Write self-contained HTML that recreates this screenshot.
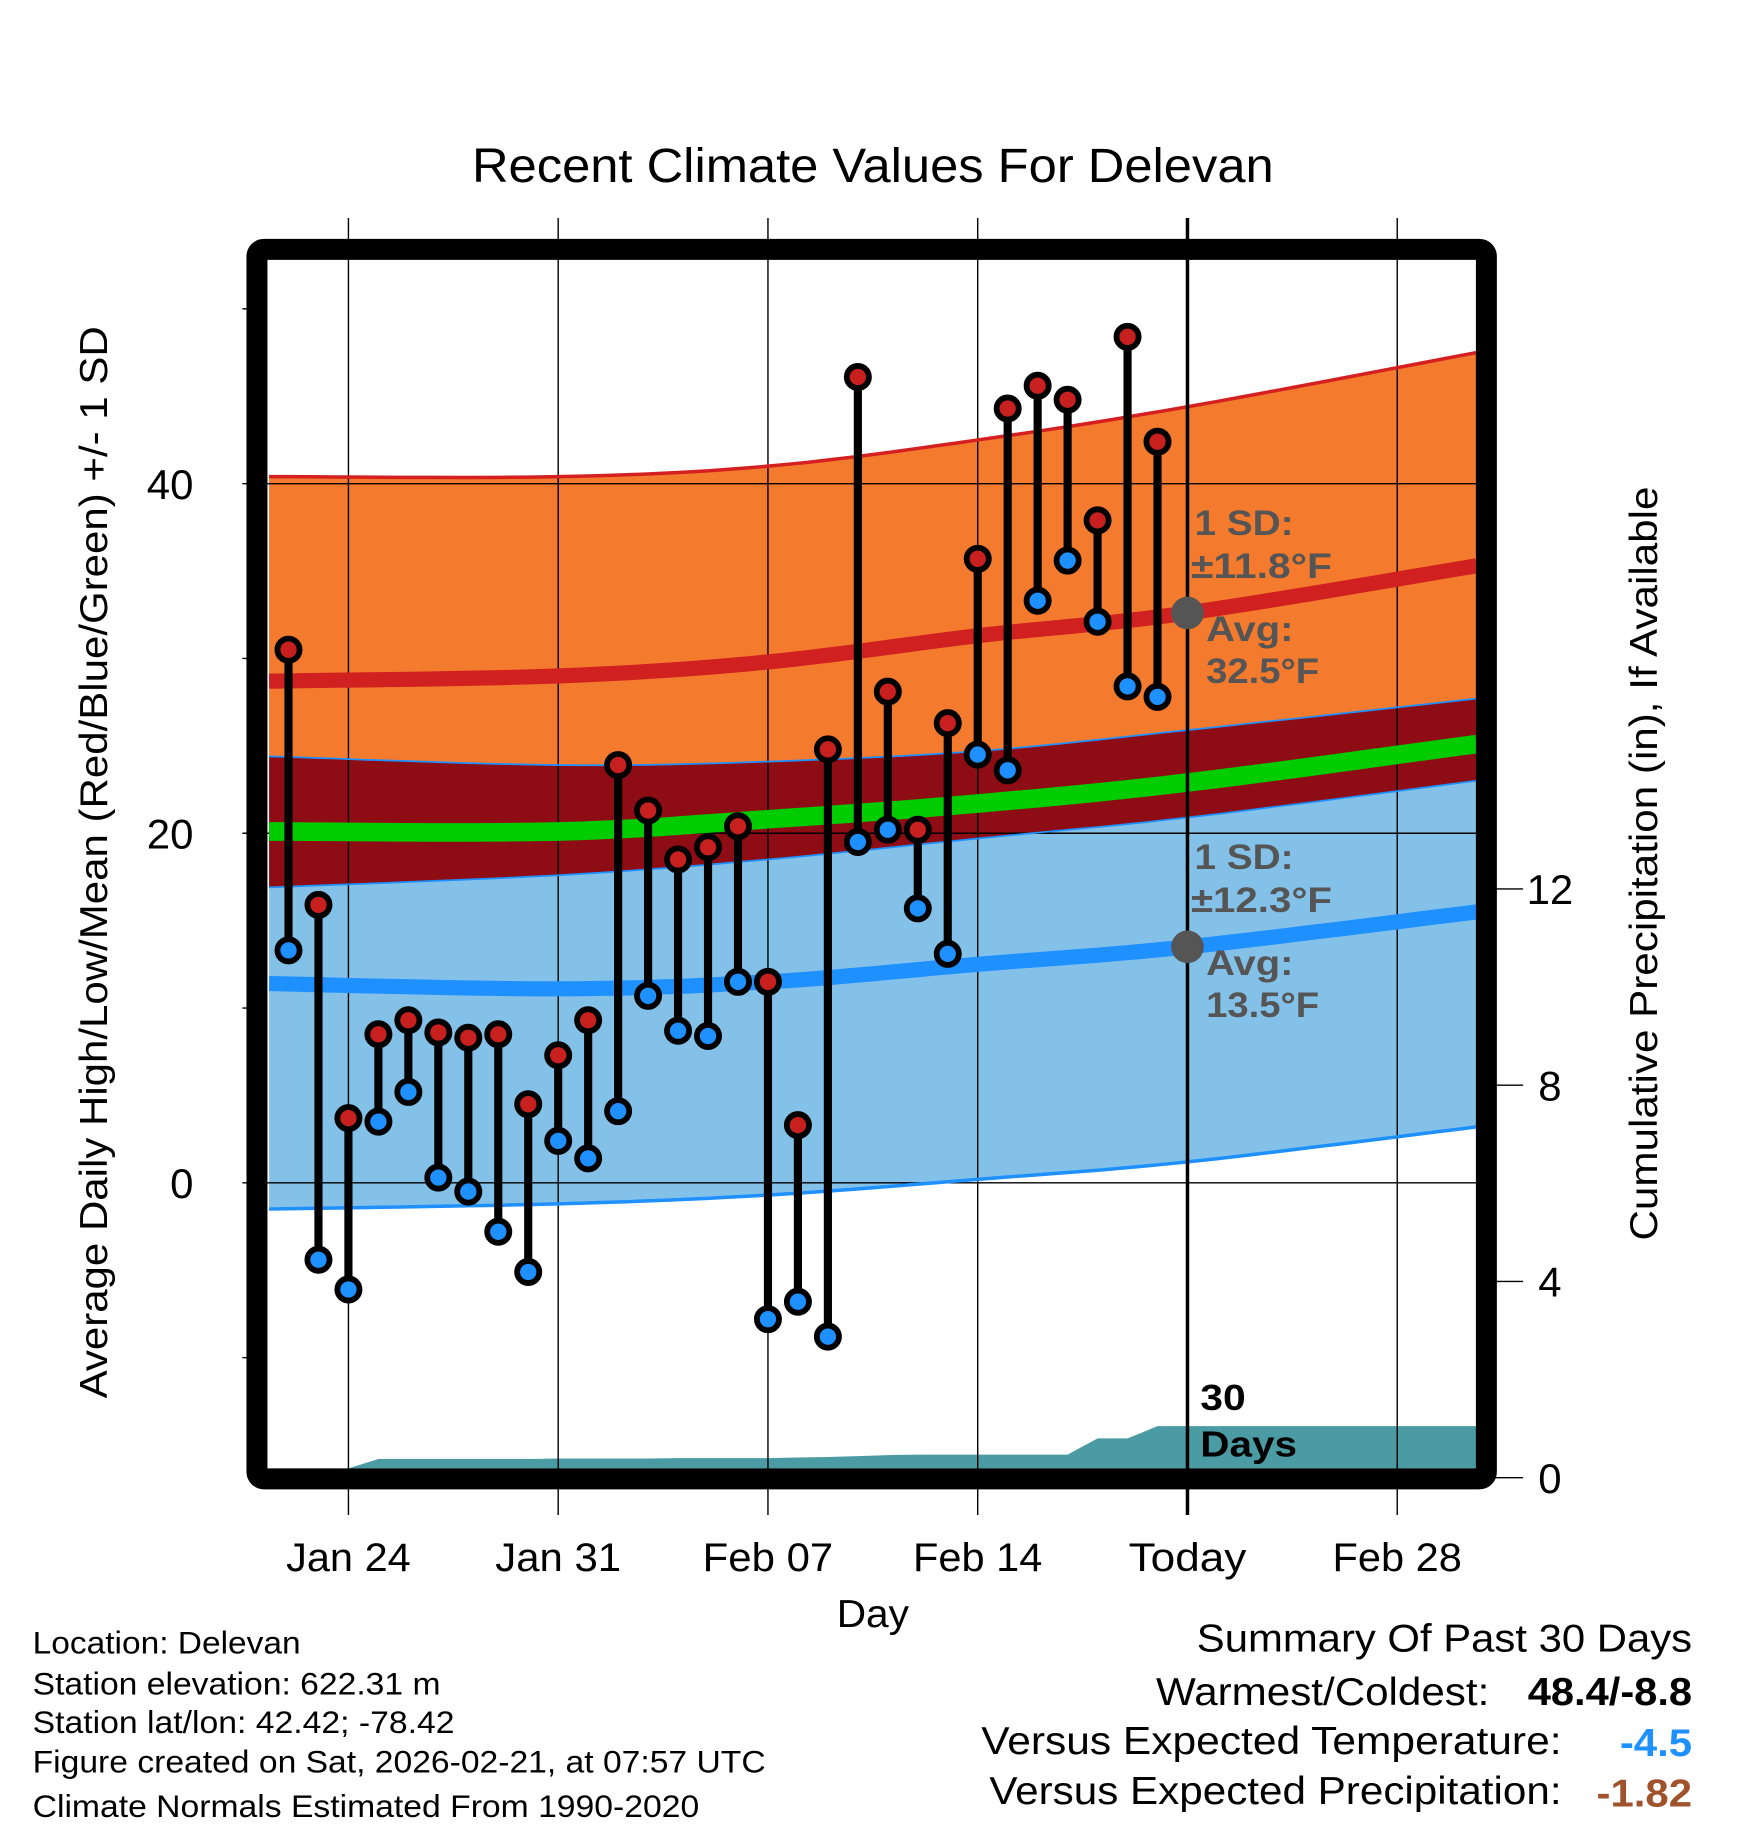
<!DOCTYPE html>
<html><head><meta charset="utf-8"><style>
html,body{margin:0;padding:0;background:#fff;}
svg{display:block;font-family:"Liberation Sans",Arial,sans-serif;}
</style></head><body>
<svg id="chart" width="1748" height="1828" viewBox="0 0 1500 1568.6" xmlns="http://www.w3.org/2000/svg">
<g id="fills"></g>
<g id="precip"></g>
<g id="grid"></g>
<g id="lines"></g>
<g id="marks"></g>
<g id="annot"></g>
<rect x="220.5" y="214" width="1055" height="1055" rx="6" fill="none" stroke="#000" stroke-width="18"/>
<g id="axes"></g>
<text x="405" y="156" font-size="41" textLength="688" lengthAdjust="spacingAndGlyphs">Recent Climate Values For Delevan</text>
<text transform="translate(92,740) rotate(-90)" font-size="33" text-anchor="middle" textLength="920" lengthAdjust="spacingAndGlyphs">Average Daily High/Low/Mean (Red/Blue/Green) +/- 1 SD</text>
<text transform="translate(1422,741) rotate(-90)" font-size="33" text-anchor="middle" textLength="647" lengthAdjust="spacingAndGlyphs">Cumulative Precipitation (in), If Available</text>
<text x="718" y="1396" font-size="33" textLength="62" lengthAdjust="spacingAndGlyphs">Day</text>
<g font-size="27" lengthAdjust="spacingAndGlyphs">
<text x="28" y="1419" textLength="230" lengthAdjust="spacingAndGlyphs">Location: Delevan</text>
<text x="28" y="1454" textLength="350" lengthAdjust="spacingAndGlyphs">Station elevation: 622.31 m</text>
<text x="28" y="1487" textLength="362" lengthAdjust="spacingAndGlyphs">Station lat/lon: 42.42; -78.42</text>
<text x="28" y="1521" textLength="629" lengthAdjust="spacingAndGlyphs">Figure created on Sat, 2026-02-21, at 07:57 UTC</text>
<text x="28" y="1559" textLength="572" lengthAdjust="spacingAndGlyphs">Climate Normals Estimated From 1990-2020</text>
</g>
<g font-size="33">
<text x="1027" y="1417" textLength="425" lengthAdjust="spacingAndGlyphs">Summary Of Past 30 Days</text>
<text x="992" y="1463" textLength="286" lengthAdjust="spacingAndGlyphs">Warmest/Coldest:</text>
<text x="1311" y="1463" font-weight="bold" textLength="141" lengthAdjust="spacingAndGlyphs">48.4/-8.8</text>
<text x="842" y="1505" textLength="498" lengthAdjust="spacingAndGlyphs">Versus Expected Temperature:</text>
<text x="1390" y="1507" font-weight="bold" fill="#1e90ff" textLength="62" lengthAdjust="spacingAndGlyphs">-4.5</text>
<text x="849" y="1548" textLength="491" lengthAdjust="spacingAndGlyphs">Versus Expected Precipitation:</text>
<text x="1370" y="1550" font-weight="bold" fill="#a0522d" textLength="82" lengthAdjust="spacingAndGlyphs">-1.82</text>
</g>
</svg>
<script>
// day numbers: Jan 1 = 1, Feb 1 = 32
const days = [22,23,24,25,26,27,28,29,30,31,32,33,34,35,36,37,38,39,40,41,42,43,44,45,46,47,48,49,50,51];
const highs = [30.5,15.9,3.7,8.5,9.3,8.6,8.3,8.5,4.5,7.3,9.3,23.9,21.3,18.5,19.2,20.4,11.5,3.3,24.8,46.1,28.1,20.2,26.3,35.7,44.3,45.6,44.8,37.9,48.4,42.4];
const lows = [13.3,-4.4,-6.1,3.5,5.2,0.3,-0.5,-2.8,-5.1,2.4,1.4,4.1,10.7,8.7,8.4,11.5,-7.8,-6.8,-8.8,19.5,20.2,15.7,13.1,24.5,23.6,33.3,35.6,32.1,28.4,27.8];
const precipCum = [0,0,0,0.38,0.38,0.38,0.38,0.38,0.38,0.39,0.39,0.39,0.39,0.40,0.40,0.40,0.40,0.41,0.42,0.44,0.46,0.47,0.47,0.47,0.47,0.47,0.47,0.80,0.80,1.05];
const normDays = [21.35,31,38,45,52,61.65];
const highMean = [28.7,29.0,29.8,31.3,32.6,35.3];
const highUp = [40.4,40.4,41.0,42.5,44.4,47.5];
const highDn = [24.4,23.9,24.1,24.7,25.9,27.7];
const lowMean = [11.4,11.1,11.5,12.5,13.5,15.5];
const lowUp = [16.9,17.6,18.5,19.7,20.9,23.0];
const lowDn = [-1.5,-1.2,-0.7,0.2,1.2,3.2];
const avgMean = [20.1,20.1,20.8,21.7,22.9,25.1];
const xTickDays = [24,31,38,45,52,59];
const xTickLabels = ["Jan 24","Jan 31","Feb 07","Feb 14","Today","Feb 28"];
const xTickWidths = [107,108,112,111,101,111];
const yTicks = [0,20,40];
const yMinor = [-10,10,30,50];
const y2Ticks = [0,4,8,12];
const todayDay = 52;

const X0=231,X1=1267,Y0=220,Y1=1260;
const x = d => 299 + (d-24)*180/7;
const y = v => 1015 - v*15;
const y2 = p => 1268 - p*42.1;
const NS="http://www.w3.org/2000/svg";
function mk(tag, parent, attrs){const e=document.createElementNS(NS,tag);for(const k in attrs)e.setAttribute(k,attrs[k]);parent.appendChild(e);return e;}
function smoothPts(arr){
  // Catmull-Rom sampled points
  const P=normDays.map((d,i)=>[x(d),y(arr[i])]);
  const out=[];
  for(let i=0;i<P.length-1;i++){
    const p0=P[Math.max(0,i-1)],p1=P[i],p2=P[i+1],p3=P[Math.min(P.length-1,i+2)];
    for(let t=0;t<1;t+=0.1){
      const t2=t*t,t3=t2*t;
      const f=(a,b,c,d)=>0.5*((2*b)+(-a+c)*t+(2*a-5*b+4*c-d)*t2+(-a+3*b-3*c+d)*t3);
      out.push([f(p0[0],p1[0],p2[0],p3[0]),f(p0[1],p1[1],p2[1],p3[1])]);
    }
  }
  out.push(P[P.length-1]);
  return out.map(p=>p[0].toFixed(1)+","+p[1].toFixed(1));
}
function band(up,dn,fill,parent,name){
  const p=smoothPts(up).concat(smoothPts(dn).reverse());
  const e=mk('polygon',parent,{points:p.join(' '),fill:fill});
  
  
}
const fills=document.getElementById('fills');
band(highUp,highDn,'#f47a2e',fills,'high-sd-band');
band(highDn,lowUp,'#8e0d15',fills,'overlap-band');
band(lowUp,lowDn,'#83c1e8',fills,'low-sd-band');

// precipitation
const pg=document.getElementById('precip');
let pp=[[X0,Y1]];
days.forEach((d,i)=>{pp.push([x(d),Math.min(y2(precipCum[i]),Y1)]);});
pp.push([X1,y2(precipCum[precipCum.length-1])]);pp.push([X1,Y1]);
const pe=mk('polygon',pg,{points:pp.map(p=>p[0].toFixed(1)+","+p[1].toFixed(1)).join(' '),fill:'#4a9ba3'});



// grid
const gg=document.getElementById('grid');
xTickDays.forEach(d=>{if(d===todayDay)return;const l=mk('line',gg,{x1:x(d),x2:x(d),y1:187,y2:1300,stroke:'#000','stroke-width':1.2});

});
yTicks.forEach(v=>{const l=mk('line',gg,{x1:208,x2:1280,y1:y(v),y2:y(v),stroke:'#000','stroke-width':1.2});

});

// normal lines
const lg=document.getElementById('lines');
function pl(arr,stroke,w,name){const e=mk('polyline',lg,{points:smoothPts(arr).join(' '),fill:'none',stroke:stroke,'stroke-width':w});

}
pl(highUp,'#d42020',3,'high-upper-line');
pl(highDn,'#1e90ff',1.5,'high-lower-line');
pl(lowUp,'#1e90ff',1.5,'low-upper-line');
pl(lowDn,'#1e90ff',3,'low-lower-line');
pl(avgMean,'#00cc00',16,'mean-line');
pl(highMean,'#d02020',13,'high-mean-line');
pl(lowMean,'#1e90ff',13,'low-mean-line');
const tl=mk('line',lg,{x1:x(todayDay),x2:x(todayDay),y1:187,y2:1300,stroke:'#000','stroke-width':3});



// marks
const mg=document.getElementById('marks');
days.forEach((d,i)=>{
  const s=mk('line',mg,{x1:x(d),x2:x(d),y1:y(highs[i]),y2:y(lows[i]),stroke:'#000','stroke-width':7});
  
  
  const h=mk('circle',mg,{cx:x(d),cy:y(highs[i]),r:9.5,fill:'#c8201e',stroke:'#000','stroke-width':5});
  
  
  const l=mk('circle',mg,{cx:x(d),cy:y(lows[i]),r:9.5,fill:'#1e90ff',stroke:'#000','stroke-width':5});
  
  
});

// annotations
const ag=document.getElementById('annot');
const hm=highMean[4], lm=lowMean[4];
function txt(parent,xx,yy,s,attrs,name,w){const t=mk('text',parent,Object.assign({x:xx,y:yy},attrs));t.textContent=s;
if(w){t.setAttribute('textLength',w);t.setAttribute('lengthAdjust','spacingAndGlyphs');}

return t;}
[[hm,'±11.8°F','32.5°F'],[lm,'±12.3°F','13.5°F']].forEach(a=>{
  const cy=y(a[0]);
  const c=mk('circle',ag,{cx:x(todayDay),cy:cy,r:14,fill:'#555'});
  
  
  const st={'font-size':30,'font-weight':'bold',fill:'#555'};
  txt(ag,1025,cy-67,'1 SD:',st,'sd-label',85);
  txt(ag,1022,cy-30,a[1],st,'sd-value',121);
  txt(ag,1035,cy+24,'Avg:',st,'avg-label',75);
  txt(ag,1035,cy+60,a[2],st,'avg-value',97);
});
const dst={'font-size':31,'font-weight':'bold',fill:'#000'};
txt(ag,1030,1210,'30',dst,'days-label',39);
txt(ag,1030,1250,'Days',dst,'days-label',83);

// axes
const ax=document.getElementById('axes');
xTickDays.forEach((d,i)=>{txt(ax,x(d)-xTickWidths[i]/2,1348,xTickLabels[i],{'font-size':34},'x-tick-label',xTickWidths[i]);});
yTicks.forEach(v=>{txt(ax,166,y(v)+13,String(v),{'font-size':36,'text-anchor':'end'},'y-tick-label');});
yMinor.forEach(v=>{const l=mk('line',ax,{x1:208,x2:220,y1:y(v),y2:y(v),stroke:'#000','stroke-width':1.2});

});
y2Ticks.forEach(p=>{const l=mk('line',ax,{x1:1275,x2:1307,y1:y2(p),y2:y2(p),stroke:'#000','stroke-width':1.2});


txt(ax,1330,y2(p)+13,String(p),{'font-size':36,'text-anchor':'middle'},'y2-tick-label');});
</script>
</body></html>
